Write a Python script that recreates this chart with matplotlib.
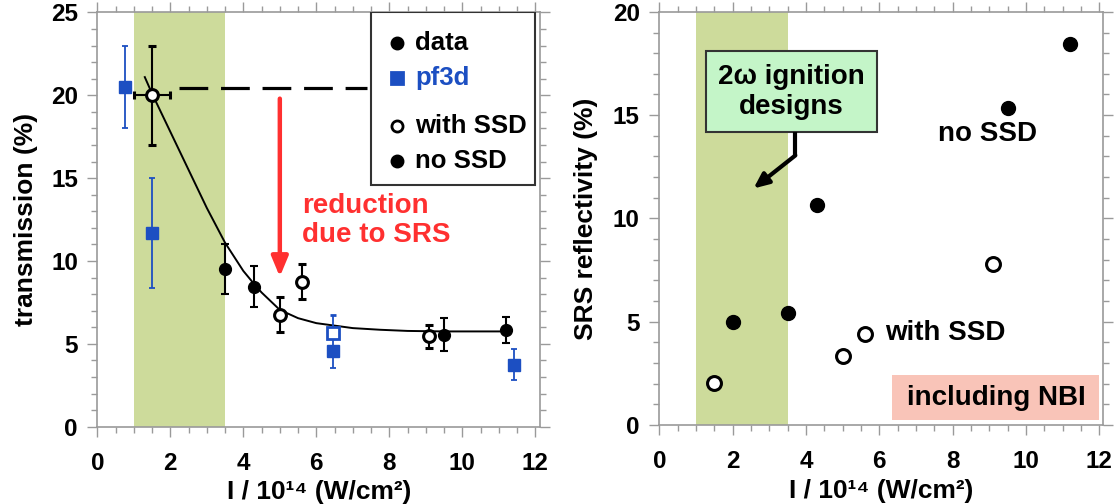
import matplotlib
matplotlib.use("Agg")
import matplotlib.pyplot as plt
from matplotlib.patches import Rectangle
from matplotlib.ticker import MultipleLocator

plt.rcParams['font.family'] = ['Liberation Sans', 'DejaVu Sans']
plt.rcParams['font.weight'] = 'bold'

# ---- left panel: transmission ----
nossd_x = [3.5, 4.3, 9.5, 11.2]
nossd_y = [9.5, 8.45, 5.55, 5.85]
nossd_err = [1.5, 1.25, 1.0, 0.8]

ssd_x = [1.5, 5.0, 5.6, 9.1]
ssd_y = [20.0, 6.75, 8.75, 5.45]
ssd_err = [3.0, 1.05, 1.05, 0.7]
ssd_xerr = [0.5, 0, 0, 0]

pf3d_x = [0.75, 1.5, 6.47, 11.42]
pf3d_y = [20.5, 11.7, 4.55, 3.75]
pf3d_err = [2.5, 3.3, 1.0, 0.95]
pf3d_open_x = [6.47]
pf3d_open_y = [5.65]
pf3d_open_err = [1.1]

fit_x = [1.3, 1.5, 2.0, 2.5, 3.0, 3.5, 4.0, 4.3, 4.5, 5.0, 5.5, 6.0, 6.5, 7.0, 7.75, 8.5, 9.5, 11.2]
fit_y = [21.1, 20.1, 17.8, 15.5, 13.2, 11.1, 9.4, 8.6, 8.1, 7.05, 6.55, 6.25, 6.1, 5.95, 5.85, 5.78, 5.75, 5.75]

ref_level = 20.42
ref_x = [2.24, 7.4]

# ---- right panel: SRS reflectivity ----
srs_nossd_x = [2.0, 3.5, 4.3, 9.5, 11.2]
srs_nossd_y = [5.0, 5.4, 10.65, 15.35, 18.45]
srs_ssd_x = [1.5, 5.0, 5.6, 9.1]
srs_ssd_y = [2.05, 3.35, 4.43, 7.8]

green_band = (1.0, 3.5)
xticks = [0, 2, 4, 6, 8, 10, 12]

blue = '#1c4fc2'
band_col = '#cddb9b'
spine_col = '#9a9a9a'
fs_tick = 17.5
fs_lab = 19
fs_txt = 20

fig = plt.figure(figsize=(11.19, 5.04), dpi=100)
ax1 = fig.add_axes([0.0870, 0.1534, 0.3956, 0.8218])
ax2 = fig.add_axes([0.5892, 0.1567, 0.3965, 0.8198])


def style(ax, ylim, xmax):
    ax.set_xlim(0, xmax)
    ax.set_ylim(*ylim)
    ax.set_xticks(xticks)
    ax.xaxis.set_minor_locator(MultipleLocator(0.5))
    ax.yaxis.set_major_locator(MultipleLocator(5))
    ax.yaxis.set_minor_locator(MultipleLocator(1))
    ax.tick_params(which='both', direction='out', top=True, right=True,
                   color=spine_col, labelsize=fs_tick, width=1.0)
    ax.tick_params(which='major', length=7)
    ax.tick_params(which='minor', length=4)
    ax.tick_params(axis='x', pad=11)
    ax.tick_params(axis='y', pad=7)
    for s in ax.spines.values():
        s.set_color(spine_col)
        s.set_linewidth(1.2)
    for lab in ax.get_xticklabels() + ax.get_yticklabels():
        lab.set_fontweight('bold')
    ax.set_xlabel('I / 10¹⁴ (W/cm²)', fontsize=fs_lab, fontweight='bold',
                  labelpad=4)
    ax.axvspan(*green_band, color=band_col, zorder=0, lw=0)


style(ax1, (0, 25), 12.13)
style(ax2, (0, 20), 12.1)
ax1.set_ylabel('transmission (%)', fontsize=fs_lab, fontweight='bold')
ax2.set_ylabel('SRS reflectivity (%)', fontsize=fs_lab, fontweight='bold')
ax1.yaxis.set_label_coords(-0.134, 0.5)
ax2.yaxis.set_label_coords(-0.138, 0.5)

# fit curve and reference level
ax1.plot(fit_x, fit_y, color='black', lw=1.4, zorder=2)
ax1.plot(ref_x, [ref_level, ref_level], color='black', lw=2.3,
         dashes=(9, 4), zorder=2)

# pf3d
ax1.errorbar(pf3d_x, pf3d_y, yerr=pf3d_err, fmt='s', color=blue, ms=8.5,
             elinewidth=1.3, capsize=2.5, capthick=1.3, zorder=3)
ax1.errorbar(pf3d_open_x, pf3d_open_y, yerr=[[0], pf3d_open_err], fmt='s',
             color=blue, mfc='white', mec=blue, mew=2, ms=8.5,
             elinewidth=1.3, capsize=2.5, capthick=1.3, zorder=3)

# data
ax1.errorbar(nossd_x, nossd_y, yerr=nossd_err, fmt='o', color='black', ms=8.5,
             elinewidth=1.5, capsize=3, capthick=1.5, zorder=4)
ax1.errorbar(ssd_x, ssd_y, yerr=ssd_err, xerr=ssd_xerr, fmt='o', color='black',
             mfc='white', mew=2.2, ms=8.5, elinewidth=1.5, capsize=3,
             capthick=1.5, zorder=4)

# red arrow
ax1.annotate('', xy=(5.0, 9.05), xytext=(5.0, 19.8),
             arrowprops=dict(arrowstyle='-|>,head_width=0.5,head_length=1.2',
                             color='#ff3030', lw=3.2, shrinkA=0, shrinkB=0))
ax1.text(5.6, 12.45, 'reduction\ndue to SRS', color='#ff3030', fontsize=fs_txt,
         fontweight='bold', ha='left', va='center', linespacing=1.15)

# legend box drawn by hand
ax1.add_patch(Rectangle((7.5, 14.57), 4.5, 10.43, fill=False, ec='#333333',
                        lw=1.5, zorder=5))
leg_items = [('data', 23.18, 'o', 'black', 'black', 'black'),
             ('pf3d', 21.02, 's', blue, blue, blue),
             ('with SSD', 18.14, 'o', 'white', 'black', 'black'),
             ('no SSD', 16.06, 'o', 'black', 'black', 'black')]
for lab, yy, mk, fc, ec, tc in leg_items:
    ax1.plot([8.2], [yy], mk, mfc=fc, mec=ec, mew=2, ms=8, zorder=6)
    ax1.text(8.7, yy, lab, color=tc, fontsize=18.5, fontweight='bold',
             va='center', ha='left', zorder=6)

# right panel points
ax2.plot(srs_nossd_x, srs_nossd_y, 'o', color='black', ms=10, zorder=4)
ax2.plot(srs_ssd_x, srs_ssd_y, 'o', mfc='white', mec='black', mew=2.2, ms=10,
         zorder=4)
ax2.text(8.95, 14.1, 'no SSD', fontsize=fs_txt, fontweight='bold', ha='center',
         va='center')
ax2.text(6.15, 4.44, 'with SSD', fontsize=fs_txt, fontweight='bold', ha='left',
         va='center')

ax2.add_patch(Rectangle((6.35, 0.24), 5.65, 2.18, fc='#f9c4b8', ec='none',
                        zorder=1))
ax2.text(9.18, 1.3, 'including NBI', fontsize=fs_txt, fontweight='bold',
         ha='center', va='center', zorder=2)

ax2.add_patch(Rectangle((1.28, 14.16), 4.66, 3.94, fc='#c4f5c8', ec='#333333',
                        lw=1.5, zorder=5))
ax2.text(3.61, 16.13, '2ω ignition\ndesigns', fontsize=fs_txt, fontweight='bold',
         ha='center', va='center', linespacing=1.2, zorder=6)
ax2.plot([3.71, 3.71], [14.16, 13.05], color='black', lw=3, zorder=5,
         solid_capstyle='butt')
ax2.annotate('', xy=(2.57, 11.45), xytext=(3.71, 13.05),
             arrowprops=dict(arrowstyle='-|>,head_width=0.4,head_length=0.9',
                             color='black', lw=3, shrinkA=0, shrinkB=0),
             zorder=5)

fig.savefig('out.png', dpi=100)
